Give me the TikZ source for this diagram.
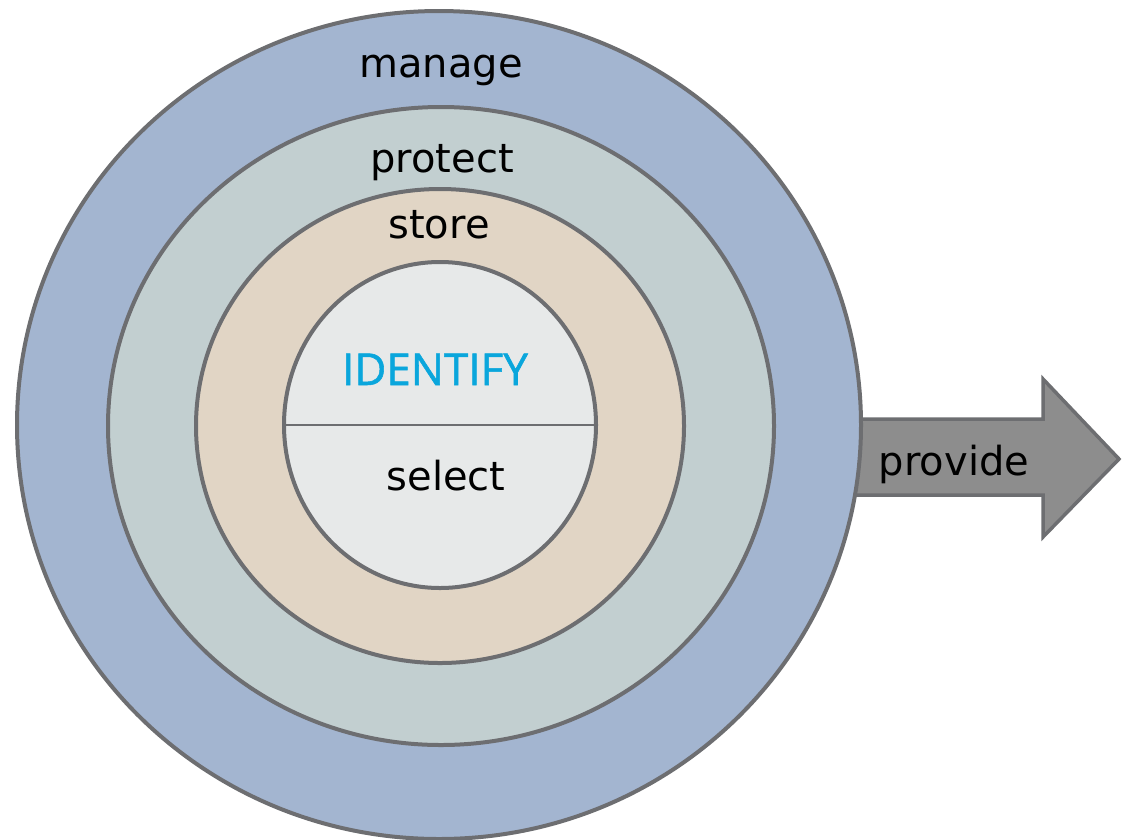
\documentclass[tikz,border=0pt]{standalone}
\usepackage{fontspec}
\setmainfont{DejaVu Sans}
\newfontfamily\capsfont[FakeBold=1.2]{Open Sans}
\usetikzlibrary{shapes.geometric}
\definecolor{ringline}{HTML}{6D6E71}
\definecolor{manageblue}{HTML}{A3B5D0}
\definecolor{protectgrey}{HTML}{C2CFD0}
\definecolor{storebeige}{HTML}{E1D5C5}
\definecolor{corelight}{HTML}{E7E9E9}
\definecolor{arrowgrey}{HTML}{8D8D8D}
\definecolor{identblue}{HTML}{0AA6DC}
\tikzset{
  ring/.style={ellipse, draw=ringline, line width=4pt, inner sep=0pt},
  label/.style={font=\fontsize{40}{42}\selectfont, text=black, inner sep=0pt, anchor=base},
}
\begin{document}
\begin{tikzpicture}[x=1pt,y=-1pt]
\useasboundingbox (0,0) rectangle (1126,839);
\coordinate (c) at (439,425);
% outgoing arrow, partly hidden behind the outer ring
\draw[fill=arrowgrey, draw=ringline, line width=3.5pt, line join=miter]
  (830,419) -- (1043,419) -- (1043,379) -- (1119,459) -- (1043,537) -- (1043,495) -- (830,495) -- cycle;
% nested rings
\node[ring, fill=manageblue, minimum width=844pt, minimum height=828pt] (outer) at (c) {};
\node[ring, fill=protectgrey, minimum width=666pt, minimum height=638pt] (protect) at (441,426) {};
\node[ring, fill=storebeige, minimum width=488pt, minimum height=474pt] (store) at (440,426) {};
\node[ring, fill=corelight, minimum width=312pt, minimum height=326pt] (core) at (440,425) {};
\draw[ringline, line width=2pt] ([xshift=2pt]core.west) -- ([xshift=-2pt]core.east);
% labels
\node[label] (tmanage) at (441,77) {manage};
\node[label] (tprotect) at (442,172.5) {protect};
\node[label] (tstore) at (439,238) {store};
\node[inner sep=0pt, anchor=base, text=identblue, font=\capsfont\fontsize{44}{46}\selectfont] (tident) at (435,385) {IDENTIFY};
\node[label] (tselect) at (446,490) {select};
\node[label] (tprovide) at (954,475) {provide};
\end{tikzpicture}
\end{document}
